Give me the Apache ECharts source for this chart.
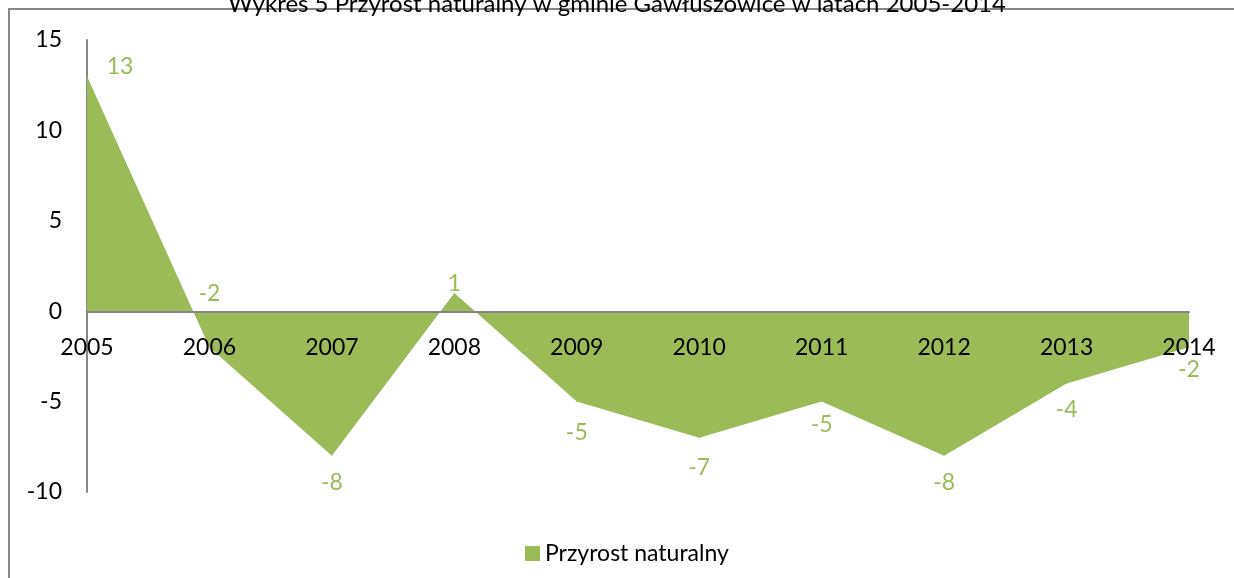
<!DOCTYPE html>
<html>
<head>
<meta http-equiv="Content-Type" content="text/html; charset=utf-8" />
<title>Przyrost naturalny</title>
<script src="https://cdn.jsdelivr.net/npm/echarts@6/dist/echarts.min.js" type="text/javascript"></script>
<style>
	html, body { margin: 0; padding: 0; background: #fff; }
	#chart { width: 1234px; height: 578px; }
</style>
</head>
<body>
<div id="chart"></div>
<script type="text/javascript">
	var years = ['2005','2006','2007','2008','2009','2010','2011','2012','2013','2014'];
	var przyrost = [13, -2, -8, 1, -5, -7, -5, -8, -4, -2];
	var yTicks = {min: -10, max: 15, step: 5};
	var labelShift = [[33,-10],[0,-54],[0,27],[0,-10],[0,31],[0,30],[0,23],[0,27],[0,26],[0,22]];

	var font = 'Lato, "Open Sans", sans-serif';
	var green = '#9BBB59';
	var fs = 23;

	var myChart = echarts.init(document.getElementById('chart'));
	var option = {
		animation: false,
		textStyle: {fontFamily: font},
		title: {
			text: 'Wykres 5 Przyrost naturalny w gminie Gawłuszowice w latach 2005-2014',
			left: 'center',
			top: -13,
			textStyle: {fontSize: 24, fontWeight: 'normal', color: '#000', fontFamily: font}
		},
		graphic: [{
			type: 'rect',
			shape: {x: 9, y: 9, width: 1400, height: 800},
			style: {fill: 'none', stroke: '#868686', lineWidth: 2},
			silent: true
		}],
		legend: {
			left: 520,
			top: 537,
			itemWidth: 15,
			itemHeight: 15,
			itemGap: 10,
			textStyle: {fontSize: fs, color: '#000', fontFamily: font},
			data: [{name: 'Przyrost naturalny', icon: 'rect', itemStyle: {color: green, opacity: 1}}]
		},
		grid: {left: 87, right: 45, top: 40, bottom: 86},
		xAxis: {
			type: 'category',
			boundaryGap: false,
			data: years,
			position: 'bottom',
			offset: -180,
			axisLine: {onZero: false, lineStyle: {color: '#868686', width: 2}},
			axisTick: {show: false},
			axisLabel: {margin: 24, fontSize: fs, color: '#000', fontFamily: font},
			z: 10
		},
		yAxis: {
			type: 'value',
			min: yTicks.min,
			max: yTicks.max,
			interval: yTicks.step,
			axisLine: {show: true, lineStyle: {color: '#868686', width: 2}},
			axisTick: {show: false},
			splitLine: {show: false},
			axisLabel: {margin: 25, fontSize: fs, color: '#000', fontFamily: font}
		},
		series: [{
			name: 'Przyrost naturalny',
			type: 'line',
			data: przyrost.map(function (v, i) {
				return {value: v, label: {offset: labelShift[i]}};
			}),
			symbol: 'circle',
			symbolSize: 1,
			itemStyle: {color: green},
			lineStyle: {width: 0, color: green},
			areaStyle: {color: green, opacity: 1},
			label: {
				show: true,
				position: 'inside',
				align: 'center',
				verticalAlign: 'middle',
				fontSize: fs,
				color: green,
				fontFamily: font
			}
		}]
	};
	myChart.setOption(option);
</script>
</body>
</html>
